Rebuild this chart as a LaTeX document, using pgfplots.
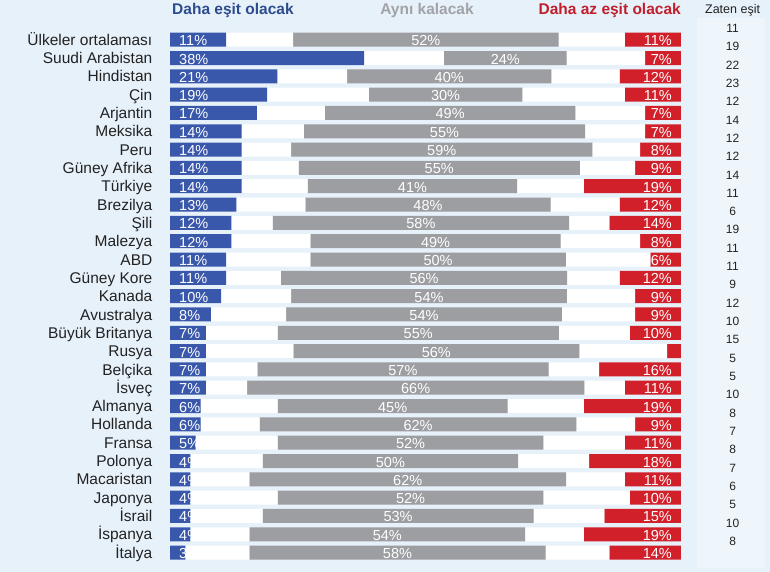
\documentclass[border=0pt]{standalone}
\usepackage{fontspec}
\setmainfont{Liberation Sans}
\usepackage{pgfplots}
\usepackage{pgfplotstable}
\pgfplotsset{compat=1.18}
\definecolor{bg}{HTML}{E6F1FA}
\definecolor{colbg}{HTML}{EEF6FC}
\definecolor{colline}{HTML}{DCE7F0}
\definecolor{barblue}{HTML}{3A58AB}
\definecolor{bargray}{HTML}{9D9EA1}
\definecolor{barred}{HTML}{D2202A}
\definecolor{hblue}{HTML}{2D4C8E}
\definecolor{hgray}{HTML}{A2A3A6}
\definecolor{hred}{HTML}{C01F2B}
\definecolor{txt}{HTML}{222222}

\pgfplotstableread[col sep=comma]{
r,name,blue,gstart,gray,red,zaten
0,Ülkeler ortalaması,11,24.07,52,11,11
1,Suudi Arabistan,38,53.62,24,7,19
2,Hindistan,21,34.64,40,12,22
3,Çin,19,38.94,30,11,23
4,Arjantin,17,30.33,49,7,12
5,Meksika,14,26.22,55,7,14
6,Peru,14,23.68,59,8,12
7,Güney Afrika,14,25.19,55,9,12
8,Türkiye,14,26.95,41,19,14
9,Brezilya,13,26.48,48,12,11
10,Şili,12,20.10,58,14,6
11,Malezya,12,27.46,49,8,19
12,ABD,11,27.46,50,6,11
13,Güney Kore,11,21.72,56,12,11
14,Kanada,10,23.68,54,9,9
15,Avustralya,8,22.70,54,9,12
16,Büyük Britanya,7,21.08,55,10,10
17,Rusya,7,24.13,56,2.7,15
18,Belçika,7,17.08,57,16,5
19,İsveç,7,15.07,66,11,5
20,Almanya,6,21.08,45,19,10
21,Hollanda,6,17.55,62,9,8
22,Fransa,5,21.08,52,11,7
23,Polonya,4,18.14,50,18,8
24,Macaristan,4,15.52,62,11,7
25,Japonya,4,21.08,52,10,6
26,İsrail,4,18.14,53,15,5
27,İspanya,4,15.52,54,19,10
28,İtalya,3,15.52,58,14,8
}\data

\newcommand\pctfont{\fontsize{14.5bp}{16bp}\selectfont}
\newcommand\namefont{\fontsize{15.5bp}{18bp}\selectfont}
\newcommand\headfont{\fontsize{15.5bp}{18bp}\selectfont\bfseries}
\newcommand\zfont{\fontsize{12bp}{14bp}\selectfont}

\pgfplotsset{
  base/.style={
    at={(0,0)}, anchor=south west,
    width=770bp, height=572bp, scale only axis,
    xmin=-33.27, xmax=117.42, ymin=-2.167, ymax=29.06,
    y dir=reverse, axis line style={draw=none}, ticks=none,
    clip=false,
  },
}

\begin{document}
\begin{tikzpicture}
% ---- bars ----
\begin{axis}[base, axis background/.style={fill=bg},
  xbar stacked, bar width=14bp]
  \fill[colbg] (axis cs:103.1,-1.18) rectangle (axis cs:116.4,28.83);
  \pgfplotsinvokeforeach{0,...,28}{
    \draw[colline, line width=0.6bp] (axis cs:104,#1+0.5) -- (axis cs:116,#1+0.5);
  }
  \addplot[fill=barblue, draw=none] table[y=r, x=blue] \data;
  \addplot[fill=white, draw=none] table[y=r, x expr=\thisrow{gstart}-\thisrow{blue}] \data;
  \addplot[fill=bargray, draw=none] table[y=r, x=gray] \data;
  \addplot[fill=white, draw=none] table[y=r, x expr=100-\thisrow{red}-\thisrow{gstart}-\thisrow{gray}] \data;
  \addplot[fill=barred, draw=none] table[y=r, x=red] \data;
\end{axis}
% ---- labels ----
\begin{axis}[base]
  % country names
  \addplot[draw=none, mark=none, nodes near coords, point meta=explicit symbolic,
    nodes near coords style={anchor=base east, inner sep=0pt, xshift=-17.5bp, yshift=-5.6bp,
      font=\namefont, text=txt}]
    table[x expr=0, y=r, meta=name] \data;
  % blue labels
  \addplot[draw=none, mark=none, nodes near coords={\pgfplotspointmeta\%}, point meta=explicit symbolic,
    nodes near coords style={anchor=base west, inner sep=0pt, xshift=9bp, yshift=-6bp,
      font=\pctfont, text=white}]
    table[x expr=0, y=r, meta=blue] \data;
  % gray labels
  \addplot[draw=none, mark=none, nodes near coords={\pgfplotspointmeta\%}, point meta=explicit symbolic,
    nodes near coords style={anchor=base, inner sep=0pt, yshift=-6bp,
      font=\pctfont, text=white}]
    table[x expr=\thisrow{gstart}+\thisrow{gray}/2, y=r, meta=gray] \data;
  % red labels
  \addplot[draw=none, mark=none, nodes near coords={\pgfplotspointmeta\%}, point meta=explicit symbolic,
    skip coords between index={17}{18},
    nodes near coords style={anchor=base east, inner sep=0pt, xshift=-9bp, yshift=-6bp,
      font=\pctfont, text=white}]
    table[x expr=100, y=r, meta=red] \data;
  % zaten esit
  \addplot[draw=none, mark=none, nodes near coords, point meta=explicit symbolic,
    nodes near coords style={anchor=base, inner sep=0pt, yshift=-4.3bp,
      font=\zfont, text=txt}]
    table[x expr=110.1, y expr=\thisrow{r}-0.628, meta=zaten] \data;
  % headers
  \node[anchor=base west, inner sep=0pt, font=\headfont, text=hblue] at (axis cs:0.4,-1.376) {Daha eşit olacak};
  \node[anchor=base, inner sep=0pt, font=\headfont, text=hgray] at (axis cs:50.3,-1.376) {Aynı kalacak};
  \node[anchor=base east, inner sep=0pt, font=\headfont, text=hred] at (axis cs:100,-1.376) {Daha az eşit olacak};
  \node[anchor=base, inner sep=0pt, font=\fontsize{12.5bp}{14bp}\selectfont, text=txt] at (axis cs:110.1,-1.44) {Zaten eşit};
\end{axis}
\end{tikzpicture}
\end{document}
